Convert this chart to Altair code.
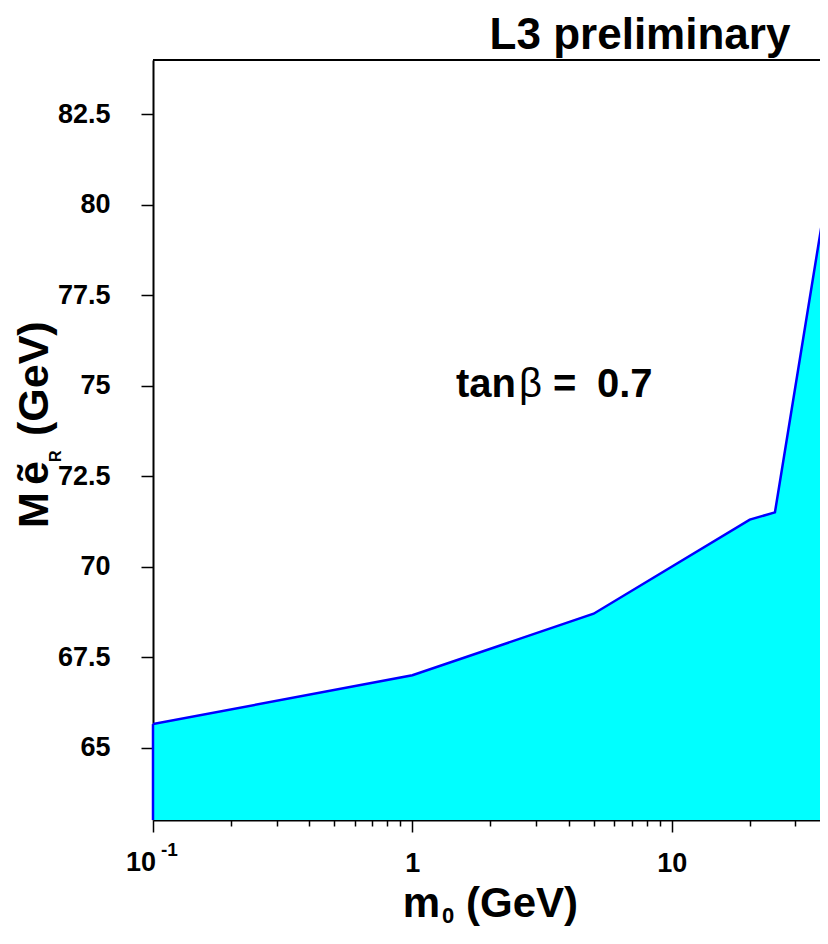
import altair as alt
import pandas as pd

# ---- data ----
m0 = [0.1, 1, 5, 20, 25, 40]
mass = [65.65, 67.0, 68.7, 71.3, 71.5, 80.5]
x_major = [0.1, 1, 10]
x_minor = [0.2, 0.3, 0.4, 0.5, 0.6, 0.7, 0.8, 0.9,
           2, 3, 4, 5, 6, 7, 8, 9, 20, 30]
y_ticks = [65, 67.5, 70, 72.5, 75, 77.5, 80, 82.5]
x_domain = [0.1, 37.3]
y_domain = [63, 84]

df = pd.DataFrame({"m0": m0, "mass": mass, "lo": [y_domain[0]] * len(m0)})
left_edge = pd.DataFrame({"m0": [m0[0]], "lo": [y_domain[0]], "hi": [mass[0]]})
one = pd.DataFrame({"k": [0]})

W, H = 667, 760
FONT = "Liberation Sans"

MAJOR_TEST = "abs(log(datum.value)/LN10 - round(log(datum.value)/LN10)) < 0.001"

xscale = alt.Scale(type="log", domain=x_domain, nice=False)
yscale = alt.Scale(domain=y_domain, nice=False, zero=False)

xaxis = alt.Axis(
    values=x_major + x_minor,
    labelExpr="datum.value == 1 ? '1' : (datum.value == 10 ? '10' : '')",
    tickSize={"condition": {"test": MAJOR_TEST, "value": 12}, "value": 6},
    tickWidth=1.5, tickColor="black",
    domainColor="black", domainWidth=2,
    labelFont=FONT, labelFontSize=27, labelFontWeight="bold", labelColor="black",
    labelPadding=18, labelBaseline="top",
    grid=False, title=None, orient="bottom",
)
yaxis = alt.Axis(
    values=y_ticks, format=".3~g",
    tickSize=12, tickWidth=1.5, tickColor="black",
    domainColor="black", domainWidth=2,
    labelFont=FONT, labelFontSize=27, labelFontWeight="bold", labelColor="black",
    labelPadding=31, grid=False, title=None,
)

base = alt.Chart(df)

area = base.mark_area(fill="#00FFFF", fillOpacity=1, strokeWidth=0, clip=True).encode(
    x=alt.X("m0:Q", scale=xscale, axis=xaxis),
    y=alt.Y("mass:Q", scale=yscale, axis=yaxis, stack=None),
    y2="lo:Q",
)
line = base.mark_line(color="#0000FF", strokeWidth=2.5, clip=True).encode(
    x=alt.X("m0:Q", scale=xscale),
    y=alt.Y("mass:Q", scale=yscale),
)
edge = alt.Chart(left_edge).mark_rule(color="#0000FF", strokeWidth=2.5).encode(
    x=alt.X("m0:Q", scale=xscale),
    y=alt.Y("lo:Q", scale=yscale),
    y2="hi:Q",
)
# top frame line
frame_top = alt.Chart(one).mark_rule(color="black", strokeWidth=2).encode(
    x=alt.value(0), x2=alt.value(W), y=alt.value(0)
)

# 10^-1 label at the first major tick
lab01 = pd.DataFrame({"m0": [x_major[0]]})
lab_10 = alt.Chart(lab01).mark_text(
    text="10", font=FONT, fontSize=27, fontWeight="bold", align="right",
    baseline="top", dx=3, color="black",
).encode(x=alt.X("m0:Q", scale=xscale), y=alt.value(H + 30))
lab_m1 = alt.Chart(lab01).mark_text(
    text="-1", font=FONT, fontSize=19, fontWeight="bold", align="left",
    baseline="top", dx=8, color="black",
).encode(x=alt.X("m0:Q", scale=xscale), y=alt.value(H + 21))


def txt(text, x, y, size, weight="bold", align="left", baseline="alphabetic", angle=0):
    return alt.Chart(one).mark_text(
        text=text, font=FONT, fontSize=size, fontWeight=weight, align=align,
        baseline=baseline, angle=angle, color="black",
    ).encode(x=alt.value(x), y=alt.value(y))


texts = [
    txt("L3 preliminary", 487, -11, 44, align="center"),
    txt("tan", 303, 337, 40),
    txt("β", 366, 337, 40, weight="normal"),
    txt("=", 400, 337, 40),
    txt("0.7", 444, 337, 40),
    txt("m", 287, 857, 42, align="right"),
    txt("0", 289, 863, 22),
    txt("(GeV)", 313, 857, 42),
    txt("M", -105, 468, 43, angle=270),
    txt("ẽ", -105, 425, 43, angle=270),
    txt("R", -92, 402, 16, angle=270),
    txt("(GeV)", -105, 376, 43, angle=270),
]

chart = alt.layer(area, line, edge, frame_top, lab_10, lab_m1, *texts).properties(
    width=W, height=H,
    padding={"left": 145, "top": 52, "right": 0, "bottom": 110},
    autosize=alt.AutoSizeParams(type="none"),
    background="white",
).configure_view(strokeWidth=0)

chart.save("out.html", embed_options={"renderer": "svg", "actions": False})
